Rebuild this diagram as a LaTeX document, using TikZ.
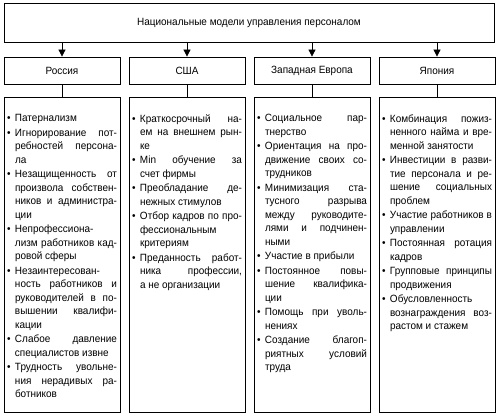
\documentclass[tikz,border=0pt]{standalone}
\usepackage{fontspec}
\setmainfont[FakeStretch=0.95]{Liberation Sans}
\usetikzlibrary{positioning, arrows.meta}

\newcommand{\itm}{\par\noindent\hangindent=8pt\hangafter=1\makebox[8pt][l]{\textbullet}}
\newcommand{\spis}[1]{\parbox[t][280pt][t]{110pt}{\fontsize{10.5}{13.5}\selectfont\setlength{\parskip}{1pt}#1}}

\begin{document}
\begin{tikzpicture}[x=1pt, y=1pt, node distance=125pt, on grid,
    box/.style={draw, line width=0.8pt, minimum width=116pt, minimum height=27pt,
      inner sep=0pt, font=\fontsize{10.5}{13}\selectfont},
    lst/.style={draw, line width=0.8pt, inner xsep=3pt, inner ysep=17.5pt},
    arr/.style={line width=0.8pt, -{Triangle[width=7pt, length=7pt]}}]
  \useasboundingbox (0,0) rectangle (500,419);
  \node[box, minimum width=490pt, minimum height=39pt] (nm) at (249,396.5)
    {Национальные модели управления персоналом};
  \node[box] (ru) at (62,348.5) {Россия};
  \node[box] (us) [right=of ru] {США};
  \node[box] (we) [right=of us] {Западная Европа};
  \node[box] (jp) [right=of we] {Япония};
  % lists
  \node[lst] (rul) [below=184pt of ru] {\spis{%
    \itm Патернализм
    \itm Игнорирование пот-\linebreak ребностей персона-\linebreak ла
    \itm Незащищенность от\linebreak произвола собствен-\linebreak ников и администра-\linebreak ции
    \itm Непрофессиона-\linebreak лизм работников кад-\linebreak ровой сферы
    \itm Незаинтересован-\linebreak ность работников и\linebreak руководителей в по-\linebreak вышении квалифи-\linebreak кации
    \itm Слабое давление\linebreak специалистов извне
    \itm Трудность увольне-\linebreak ния нерадивых ра-\linebreak ботников}};
  \node[lst] (usl) [below=184pt of us] {\spis{%
    \itm Краткосрочный на-\linebreak ем на внешнем рын-\linebreak ке
    \itm Min обучение за\linebreak счет фирмы
    \itm Преобладание де-\linebreak нежных стимулов
    \itm Отбор кадров по про-\linebreak фессиональным\linebreak критериям
    \itm Преданность работ-\linebreak ника профессии,\linebreak а не организации}};
  \node[lst] (wel) [below=184pt of we] {\spis{%
    \itm Социальное пар-\linebreak тнерство
    \itm Ориентация на про-\linebreak движение своих со-\linebreak трудников
    \itm Минимизация ста-\linebreak тусного разрыва\linebreak между руководите-\linebreak лями и подчинен-\linebreak ными
    \itm Участие в прибыли
    \itm Постоянное повы-\linebreak шение квалифика-\linebreak ции
    \itm Помощь при уволь-\linebreak нениях
    \itm Создание благоп-\linebreak риятных условий\linebreak труда}};
  \node[lst] (jpl) [below=184pt of jp] {\spis{%
    \itm Комбинация пожиз-\linebreak ненного найма и вре-\linebreak менной занятости
    \itm Инвестиции в разви-\linebreak тие персонала и ре-\linebreak шение социальных\linebreak проблем
    \itm Участие работников в\linebreak управлении
    \itm Постоянная ротация\linebreak кадров
    \itm Групповые принципы\linebreak продвижения
    \itm Обусловленность\linebreak вознаграждения воз-\linebreak растом и стажем}};
  \foreach \c in {ru, us, we, jp} {
    \draw[arr] (nm.south -| \c.north) -- (\c.north);
    \draw[line width=0.8pt] (\c.south) -- (\c l.north);
  }
\end{tikzpicture}
\end{document}
